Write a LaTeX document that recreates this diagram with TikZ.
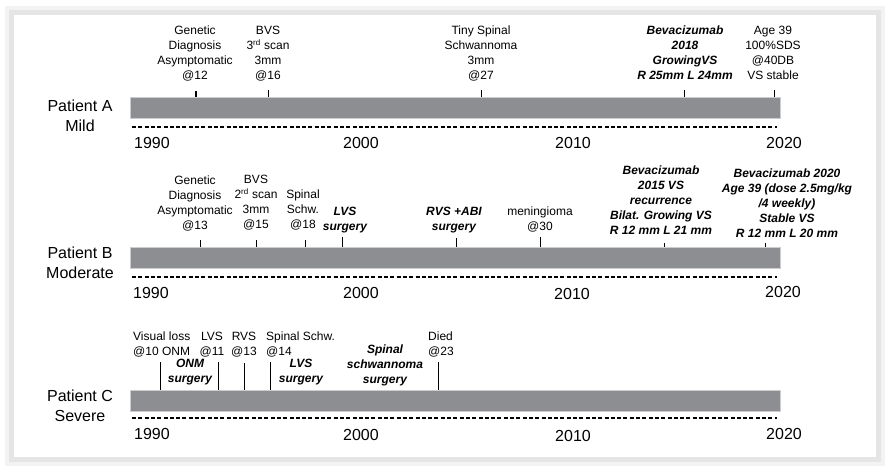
\documentclass[tikz,border=0pt]{standalone}
\usepackage{fontspec}
\setmainfont{Liberation Sans}
\definecolor{barcol}{RGB}{141,142,146}
\definecolor{baredge}{RGB}{205,205,207}
\definecolor{shadA}{RGB}{243,243,243}
\definecolor{shadB}{RGB}{229,229,229}
\tikzset{
  lbl/.style={inner sep=0pt, align=center, anchor=north, font=\fontsize{12}{15}\selectfont},
  lbll/.style={inner sep=0pt, align=left, anchor=north west, font=\fontsize{12}{15}\selectfont},
  bi/.style={lbl, font=\fontsize{12}{15}\selectfont\bfseries\itshape},
  yr/.style={inner sep=0pt, font=\fontsize{16}{19}\selectfont},
  pat/.style={inner sep=0pt, align=center, font=\fontsize{16}{20}\selectfont},
  tk/.style={line width=0.9pt, black},
  barbox/.style={fill=barcol, draw=baredge, line width=0.7pt},
  dashln/.style={line width=1.4pt, dash pattern=on 4pt off 2.3pt}
}
\begin{document}
\begin{tikzpicture}[x=1pt, y=-1pt]
\useasboundingbox (0,0) rectangle (892,471);
% frame with shadow
\fill[shadA] (5,6) rectangle (885,466);
\fill[shadB] (9,10) rectangle (881,462);
\fill[white] (14,15) rectangle (876,457);

% ---------------- Patient A ----------------
\node[pat] (pa) at (80,116) {Patient A\\Mild};
\draw[barbox] (130,97) rectangle (780,118);
\draw[dashln] (132,127) -- (777,127);
\node[yr] (a1990) at (152,143) {1990};
\node[yr] (a2000) at (361,143) {2000};
\node[yr] (a2010) at (573,143) {2010};
\node[yr] (a2020) at (784,143) {2020};
\node[lbl] (a1) at (195,26) {Genetic\\Diagnosis\\Asymptomatic\\@12};
\node[lbl] (a2) at (268,26) {BVS\\3\textsuperscript{rd} scan\\3mm\\@16};
\node[lbl] (a3) at (481,26) {Tiny Spinal\\Schwannoma\\3mm\\@27};
\node[bi] (a4) at (685,26) {Bevacizumab\\2018\\GrowingVS\\R 25mm L 24mm};
\node[lbl] (a5) at (773,26) {Age 39\\100\%SDS\\@40DB\\VS stable};
\draw[tk, line width=1.6pt] (196,91) -- (196,97);
\draw[tk] (268,90) -- (268,97);
\draw[tk] (481,90) -- (481,97);
\draw[tk] (684,90) -- (684,97);
\draw[tk] (774,90) -- (774,97);

% ---------------- Patient B ----------------
\node[pat] (pb) at (80,262.5) {Patient B\\Moderate};
\draw[barbox] (130,247) rectangle (780,268);
\draw[dashln] (132,277) -- (777,277);
\node[yr] (b1990) at (151,293) {1990};
\node[yr] (b2000) at (361,293) {2000};
\node[yr] (b2010) at (572,294) {2010};
\node[yr] (b2020) at (783,292) {2020};
\node[lbl] (b1) at (195,176) {Genetic\\Diagnosis\\Asymptomatic\\@13};
\node[lbl] (b2) at (256,175) {BVS\\2\textsuperscript{rd} scan\\3mm\\@15};
\node[lbl] (b3) at (303,190) {Spinal\\Schw.\\@18};
\node[bi] (b4) at (345,207) {LVS\\surgery};
\node[bi] (b5) at (454,207) {RVS +ABI\\surgery};
\node[lbl] (b6) at (540,207) {meningioma\\@30};
\node[bi] (b7) at (661,166) {Bevacizumab\\2015 VS\\recurrence\\Bilat. Growing VS\\R 12 mm L 21 mm};
\node[bi] (b8) at (787,169) {Bevacizumab 2020\\Age 39 (dose 2.5mg/kg\\/4 weekly)\\Stable VS\\R 12 mm L 20 mm};
\draw[tk] (200,240) -- (200,247);
\draw[tk] (256,240) -- (256,247);
\draw[tk] (305,240) -- (305,247);
\draw[tk] (342,237) -- (342,247);
\draw[tk] (456,238) -- (456,247);
\draw[tk] (540,237) -- (540,247);
\draw[tk] (664,243) -- (664,247);
\draw[tk] (765,243) -- (765,247);

% ---------------- Patient C ----------------
\node[pat] (pc) at (80,405.5) {Patient C\\Severe};
\draw[barbox] (130,390) rectangle (780,411);
\draw[dashln] (132,418) -- (777,418);
\node[yr] (c1990) at (152,434) {1990};
\node[yr] (c2000) at (361,435) {2000};
\node[yr] (c2010) at (573,436) {2010};
\node[yr] (c2020) at (784,434) {2020};
\node[lbll] (c1) at (133,332) {Visual loss\\@10 ONM};
\node[lbl] (c2) at (212,332) {LVS\\@11};
\node[lbl] (c3) at (244,332) {RVS\\@13};
\node[lbll] (c4) at (266,332) {Spinal Schw.\\@14};
\node[lbll] (c5) at (428,332) {Died\\@23};
\node[bi] (c6) at (190,359) {ONM\\surgery};
\node[bi] (c7) at (301,359) {LVS\\surgery};
\node[bi] (c8) at (385,345) {Spinal\\schwannoma\\surgery};
\draw[tk] (160,362) -- (160,390);
\draw[tk] (218,362) -- (218,390);
\draw[tk] (244,363) -- (244,390);
\draw[tk] (270,362) -- (270,390);
\draw[tk] (438,362) -- (438,390);
\end{tikzpicture}
\end{document}
